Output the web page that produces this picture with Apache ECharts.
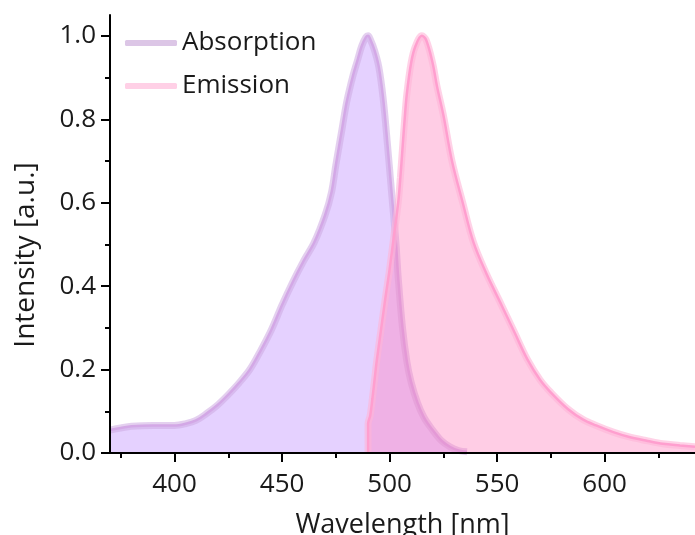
<!DOCTYPE html>
<html>
<head>
<meta charset="utf-8">
<script src="https://cdn.jsdelivr.net/npm/echarts@6/dist/echarts.min.js"></script>
<style>
html,body{margin:0;padding:0;background:#fff;}
#c{width:695px;height:535px;}
</style>
</head>
<body>
<div id="c"></div>
<script>
// Absorption spectrum (wavelength nm, normalized intensity)
const absX = [370,375,380,390,400,405,410,415,420,425,430,435,440,445,450,455,460,465,470,473,475,478,480,483,485,487,489,490,491,493,495,497,499,501,503,504,506,508,510,513,516,520,524,528,532,536];
const absY = [0.055,0.060,0.064,0.066,0.066,0.070,0.078,0.095,0.115,0.140,0.168,0.200,0.245,0.295,0.355,0.410,0.460,0.505,0.570,0.625,0.690,0.780,0.840,0.905,0.940,0.975,0.997,1.000,0.992,0.965,0.925,0.850,0.740,0.620,0.500,0.420,0.300,0.220,0.170,0.120,0.085,0.055,0.030,0.015,0.006,0.003];
// Emission spectrum
const emX = [490,490,491,492,493,494,496,498,500,502,504,505,506,507,508,510,512,515,517,520,522,525,529,534,539,545,552,558,564,570,575,583,590,596,604,611,620,627,635,642];
const emY = [0.000,0.070,0.090,0.130,0.175,0.220,0.295,0.370,0.440,0.520,0.600,0.660,0.730,0.800,0.860,0.935,0.975,1.000,0.990,0.935,0.880,0.810,0.700,0.600,0.505,0.430,0.355,0.290,0.225,0.175,0.145,0.105,0.080,0.066,0.050,0.039,0.029,0.022,0.018,0.015];

const seriesNames = ['Absorption', 'Emission'];
const xMajorTicks = [400,450,500,550,600];
const xMinorTicks = [375,425,475,525,575,625];
const yMajorTicks = [0,0.2,0.4,0.6,0.8,1.0];
const yMinorTicks = [0.1,0.3,0.5,0.7,0.9];
const xLabel = 'Wavelength [nm]';
const yLabel = 'Intensity [a.u.]';

const absData = absX.map((x,i)=>[x,absY[i]]);
const emData = emX.map((x,i)=>[x,emY[i]]);

const FONT = '"Open Sans", sans-serif';
const TXT = '#1a1a1a';
const FW = 400;
const xr = {min:370, max:642};
const yr = {min:0, max:1.05};

const chart = echarts.init(document.getElementById('c'), null, {renderer:'canvas'});
chart.setOption({
  animation:false,
  backgroundColor:'#fff',
  grid:{left:110, right:0, top:15, bottom:82, containLabel:false, outerBoundsMode:'none'},
  legend:{
    show:true, orient:'vertical', left:125, top:30, itemGap:17, padding:0,
    icon:'roundRect', itemWidth:52, itemHeight:6,
    data:seriesNames,
    textStyle:{fontFamily:FONT, fontSize:26, color:TXT, fontWeight:FW}
  },
  xAxis:[{
    type:'value', min:xr.min, max:xr.max, z:10,
    name:xLabel, nameLocation:'middle', nameGap:59,
    nameTextStyle:{fontFamily:FONT, fontSize:27, color:TXT, fontWeight:FW},
    axisLine:{show:true, lineStyle:{color:'#000', width:2}},
    axisTick:{show:true, customValues:xMajorTicks, length:9, lineStyle:{color:'#000', width:2}},
    axisLabel:{customValues:xMajorTicks, margin:19, fontFamily:FONT, fontSize:26, color:TXT, fontWeight:FW},
    splitLine:{show:false}
  },{
    type:'value', min:xr.min, max:xr.max, z:10, position:'bottom',
    axisLine:{show:false},
    axisTick:{show:true, customValues:xMinorTicks, length:5, lineStyle:{color:'#000', width:2}},
    axisLabel:{show:false},
    splitLine:{show:false}
  }],
  yAxis:[{
    type:'value', min:yr.min, max:yr.max, z:10,
    name:yLabel, nameLocation:'middle', nameGap:70,
    nameTextStyle:{fontFamily:FONT, fontSize:28, color:TXT, fontWeight:FW, padding:[0,42,0,0]},
    axisLine:{show:true, lineStyle:{color:'#000', width:2}},
    axisTick:{show:true, customValues:yMajorTicks, length:9, lineStyle:{color:'#000', width:2}},
    axisLabel:{customValues:yMajorTicks, margin:14, fontFamily:FONT, fontSize:26, color:TXT, fontWeight:FW,
      formatter:v=>Number(v).toFixed(1)},
    splitLine:{show:false}
  },{
    type:'value', min:yr.min, max:yr.max, z:10, position:'left',
    axisLine:{show:false},
    axisTick:{show:true, customValues:yMinorTicks, length:5, lineStyle:{color:'#000', width:2}},
    axisLabel:{show:false},
    splitLine:{show:false}
  }],
  series:[
    {
      name:seriesNames[0], type:'line', data:absData, smooth:0.35, showSymbol:false, z:2,
      itemStyle:{color:'#dcc6e6'},
      lineStyle:{color:'rgba(205,170,225,0.55)', width:7},
      areaStyle:{color:'rgba(190,140,255,0.4)', opacity:1}
    },
    {
      name:'abs-line', type:'line', data:absData, smooth:0.35, showSymbol:false, z:3,
      lineStyle:{color:'#d3a8e6', width:2.5}, itemStyle:{color:'#d3a8e6'}
    },
    {
      name:seriesNames[1], type:'line', data:emData, smooth:0.35, showSymbol:false, z:4,
      itemStyle:{color:'#ffd0e6'},
      lineStyle:{color:'rgba(255,180,215,0.6)', width:7},
      areaStyle:{color:'rgba(255,130,190,0.4)', opacity:1}
    },
    {
      name:'em-line', type:'line', data:emData, smooth:0.35, showSymbol:false, z:5,
      lineStyle:{color:'#ff9fcf', width:2.5}, itemStyle:{color:'#ff9fcf'}
    }
  ]
});
</script>
</body>
</html>
